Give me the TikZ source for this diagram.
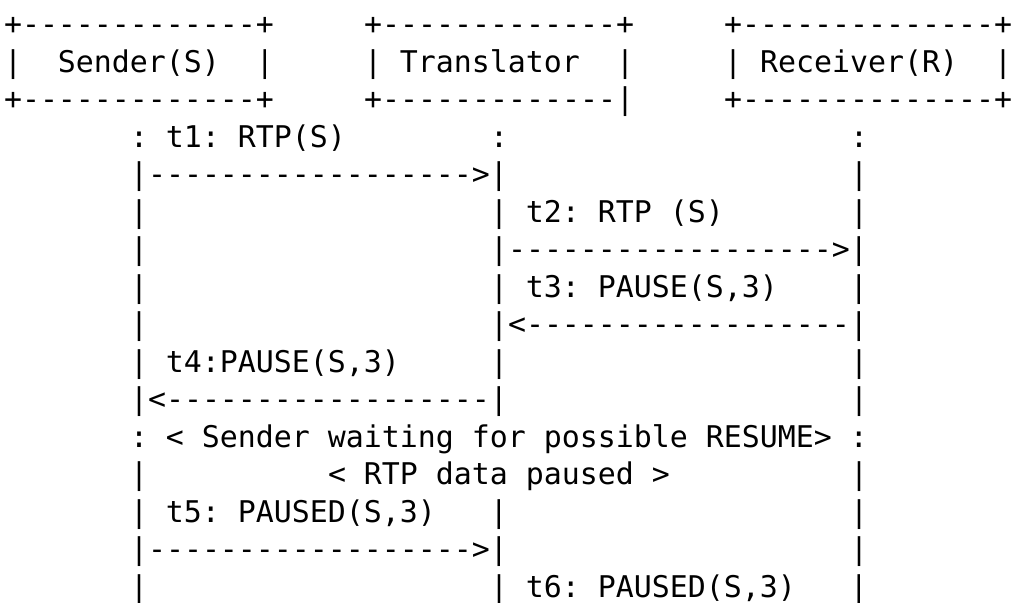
\documentclass[tikz,border=0pt]{standalone}
\usepackage{fontspec}
\setmonofont{DejaVu Sans Mono}
\newlength\cw
\setlength\cw{9pt}
\newcommand\gp[1]{\hspace*{#1\cw}}
\begin{document}
\begin{tikzpicture}[x=1pt,y=1pt,
  row/.style={anchor=base west, inner sep=0pt, outer sep=0pt,
    font=\fontsize{14.95}{18}\selectfont\ttfamily\frenchspacing}]
\useasboundingbox (0,0) rectangle (509,-301);
\def\bx{2}
\node[row] (r1)  at (\bx,-17.25) {+-------------+\gp5+-------------+\gp5+--------------+};
\node[row] (r2)  at (\bx,-36.00) {|\gp2Sender(S)\gp2|\gp5|\gp1Translator\gp2|\gp5|\gp1Receiver(R)\gp2|};
\node[row] (r3)  at (\bx,-54.75) {+-------------+\gp5+-------------|\gp5+--------------+};
\node[row] (r4)  at (\bx,-73.50) {\gp7:\gp1t1:\gp1RTP(S)\gp8:\gp{19}:};
\node[row] (r5)  at (\bx,-92.25) {\gp7|------------------>|\gp{19}|};
\node[row] (r6)  at (\bx,-111.00) {\gp7|\gp{19}|\gp1t2:\gp1RTP\gp1(S)\gp7|};
\node[row] (r7)  at (\bx,-129.75) {\gp7|\gp{19}|------------------>|};
\node[row] (r8)  at (\bx,-148.50) {\gp7|\gp{19}|\gp1t3:\gp1PAUSE(S,3)\gp4|};
\node[row] (r9)  at (\bx,-167.25) {\gp7|\gp{19}|<------------------|};
\node[row] (r10) at (\bx,-186.00) {\gp7|\gp1t4:PAUSE(S,3)\gp5|\gp{19}|};
\node[row] (r11) at (\bx,-204.75) {\gp7|<------------------|\gp{19}|};
\node[row] (r12) at (\bx,-223.50) {\gp7:\gp1<\gp1Sender\gp1waiting\gp1for\gp1possible\gp1RESUME>\gp1:};
\node[row] (r13) at (\bx,-242.25) {\gp7|\gp{10}<\gp1RTP\gp1data\gp1paused\gp1>\gp{10}|};
\node[row] (r14) at (\bx,-261.00) {\gp7|\gp1t5:\gp1PAUSED(S,3)\gp3|\gp{19}|};
\node[row] (r15) at (\bx,-279.75) {\gp7|------------------>|\gp{19}|};
\node[row] (r16) at (\bx,-298.50) {\gp7|\gp{19}|\gp1t6:\gp1PAUSED(S,3)\gp3|};
\end{tikzpicture}
\end{document}
